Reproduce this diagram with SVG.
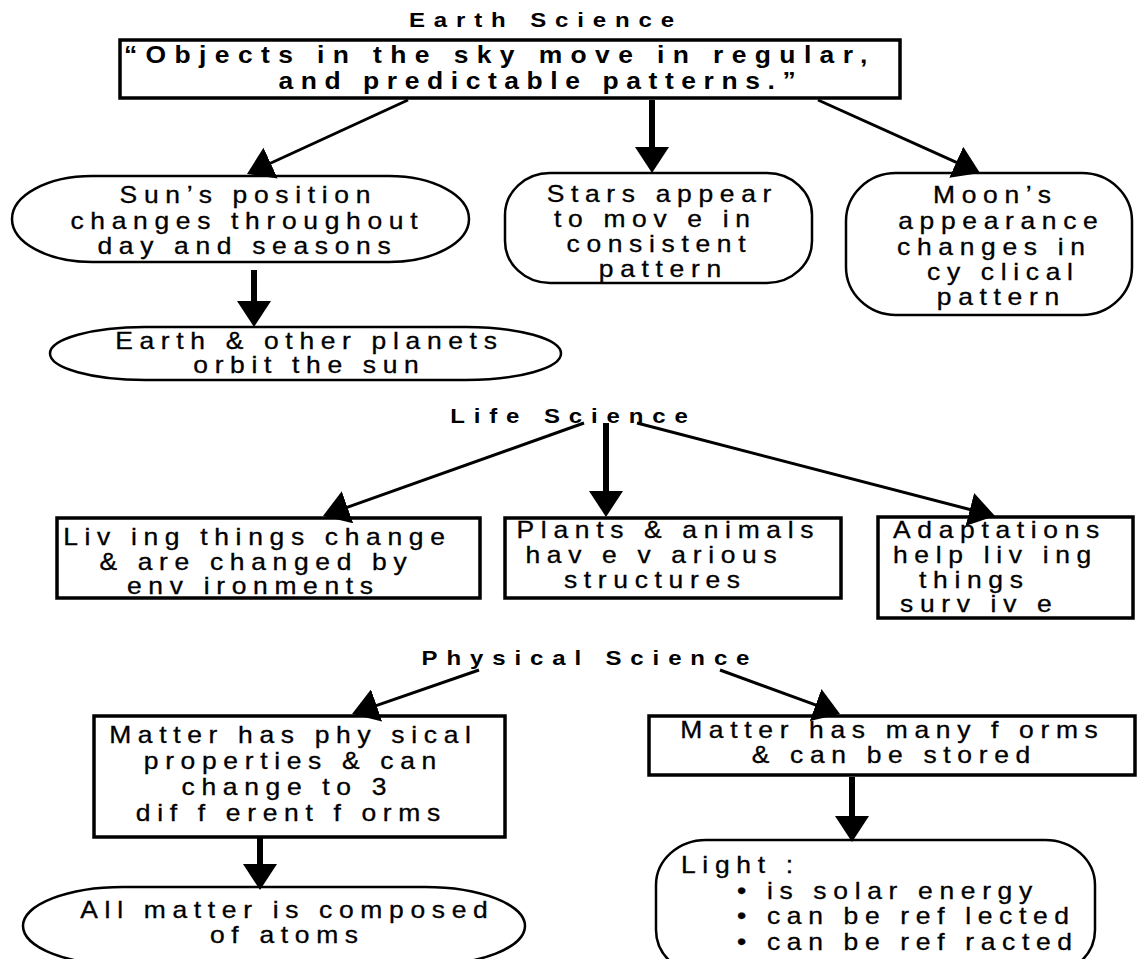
<svg xmlns="http://www.w3.org/2000/svg" width="1137" height="959" viewBox="0 0 1137 959">
  <style>
    text { font-family: "Liberation Sans", Arial, sans-serif; fill: #000; }
    .title { font-size: 20px; font-weight: bold; letter-spacing: 7.4px; text-anchor: middle; }
    .lead { font-size: 23px; font-weight: bold; letter-spacing: 6.6px; }
    .t, .ts { font-size: 23px; letter-spacing: 5.8px; stroke: #000; stroke-width: 0.3; }
    .t { text-anchor: middle; }
    .box { fill: #fff; stroke: #000; stroke-width: 3.5; }
    .pill { fill: #fff; stroke: #000; stroke-width: 2.5; }
    .thin { fill: none; stroke: #000; stroke-width: 3; marker-end: url(#ah); }
    .thick { fill: none; stroke: #000; stroke-width: 6; marker-end: url(#ah); }
  </style>
  <defs>
    <marker id="ah" markerUnits="userSpaceOnUse" markerWidth="26" markerHeight="34" viewBox="0 0 26 34" refX="2" refY="17" orient="auto">
      <path d="M0,0 L26,17 L0,34 z" fill="#000"/>
    </marker>
  </defs>
  <rect width="1137" height="959" fill="#fff"/>

  <!-- section headings (wide face: glyphs stretched horizontally) -->
  <text class="title" transform="translate(541.5 0) scale(1.2 1)" x="3.7" y="27">Earth Science</text>
  <text class="title" transform="translate(569 0) scale(1.2 1)" x="3.7" y="423">Life Science</text>
  <text class="title" transform="translate(585.5 0) scale(1.2 1)" x="3.7" y="665">Physical Science</text>

  <!-- Earth science -->
  <g id="main-idea">
    <rect class="box" x="120" y="40" width="780" height="58" stroke-width="3"/>
    <text class="lead" transform="translate(124 0) scale(1.15 1)" x="0" y="63" style="letter-spacing:7.3px">“Objects in the sky move in regular,</text>
    <text class="lead" transform="translate(537 0) scale(1.15 1)" x="3.3" y="89" text-anchor="middle">and predictable patterns.”</text>
  </g>
  <g id="sun">
    <rect class="pill" x="12" y="176" width="457" height="86" rx="80" ry="43"/>
    <text class="t" transform="translate(245 0) scale(1.15 1)" x="2.9" y="203">Sun’s position</text>
    <text class="t" transform="translate(244 0) scale(1.15 1)" x="2.9" y="229">changes throughout</text>
    <text class="t" transform="translate(244 0) scale(1.15 1)" x="2.9" y="254">day and seasons</text>
  </g>
  <g id="stars">
    <rect class="pill" x="505" y="173" width="307" height="110" rx="45" ry="42"/>
    <text class="t" transform="translate(659 0) scale(1.15 1)" x="2.9" y="202">Stars appear</text>
    <text class="t" transform="translate(652 0) scale(1.15 1)" x="2.9" y="227">to mov e in</text>
    <text class="t" transform="translate(656 0) scale(1.15 1)" x="2.9" y="252">consistent</text>
    <text class="t" transform="translate(660 0) scale(1.15 1)" x="2.9" y="277">pattern</text>
  </g>
  <g id="moon">
    <rect class="pill" x="846" y="173" width="286" height="142" rx="50" ry="48"/>
    <text class="t" transform="translate(992 0) scale(1.15 1)" x="2.9" y="203">Moon’s</text>
    <text class="t" transform="translate(998 0) scale(1.15 1)" x="2.9" y="229">appearance</text>
    <text class="t" transform="translate(991 0) scale(1.15 1)" x="2.9" y="255">changes  in</text>
    <text class="t" transform="translate(1000 0) scale(1.15 1)" x="2.9" y="280">cy clical</text>
    <text class="t" transform="translate(998 0) scale(1.15 1)" x="2.9" y="305">pattern</text>
  </g>
  <g id="planets">
    <rect class="pill" x="50" y="327" width="511" height="53" rx="95" ry="26.5"/>
    <text class="t" transform="translate(306 0) scale(1.15 1)" x="2.9" y="349">Earth &amp; other planets</text>
    <text class="t" transform="translate(306 0) scale(1.15 1)" x="2.9" y="373">orbit the sun</text>
  </g>

  <!-- Life science -->
  <g id="living">
    <rect class="box" x="57" y="518" width="423" height="80" stroke-width="4"/>
    <text class="t" transform="translate(254 0) scale(1.15 1)" x="2.9" y="545">Liv ing things change</text>
    <text class="t" transform="translate(253 0) scale(1.15 1)" x="2.9" y="570">&amp;  are changed by</text>
    <text class="t" transform="translate(250 0) scale(1.15 1)" x="2.9" y="594">env ironments</text>
  </g>
  <g id="structures">
    <rect class="box" x="505" y="518" width="336" height="80"/>
    <text class="t" transform="translate(665 0) scale(1.15 1)" x="2.9" y="538">Plants &amp; animals</text>
    <text class="t" transform="translate(651 0) scale(1.15 1)" x="2.9" y="563">hav e v arious</text>
    <text class="t" transform="translate(652 0) scale(1.15 1)" x="2.9" y="588">structures</text>
  </g>
  <g id="adaptations">
    <rect class="box" x="878" y="517" width="255" height="101" stroke-width="4"/>
    <text class="ts" transform="translate(893 0) scale(1.15 1)" x="0" y="538">Adaptations</text>
    <text class="ts" transform="translate(893 0) scale(1.15 1)" x="0" y="563">help liv ing</text>
    <text class="ts" transform="translate(919 0) scale(1.15 1)" x="0" y="588">things</text>
    <text class="ts" transform="translate(900 0) scale(1.15 1)" x="0" y="612">surv iv e</text>
  </g>

  <!-- Physical science -->
  <g id="properties">
    <rect class="box" x="94" y="716" width="411" height="121" stroke-width="4"/>
    <text class="t" transform="translate(290 0) scale(1.15 1)" x="2.9" y="743">Matter has phy sical</text>
    <text class="t" transform="translate(290 0) scale(1.15 1)" x="2.9" y="769">properties &amp; can</text>
    <text class="t" transform="translate(284 0) scale(1.15 1)" x="2.9" y="795">change to 3</text>
    <text class="t" transform="translate(288 0) scale(1.15 1)" x="2.9" y="821">dif f erent f orms</text>
  </g>
  <g id="atoms">
    <rect class="pill" x="23" y="887" width="502" height="78" rx="100" ry="39"/>
    <text class="t" transform="translate(284 0) scale(1.15 1)" x="2.9" y="918">All matter is composed</text>
    <text class="t" transform="translate(284 0) scale(1.15 1)" x="2.9" y="943">of atoms</text>
  </g>
  <g id="forms">
    <rect class="box" x="649" y="716" width="486" height="59" stroke-width="4"/>
    <text class="t" transform="translate(889 0) scale(1.15 1)" x="2.9" y="738">Matter has many  f orms</text>
    <text class="t" transform="translate(891 0) scale(1.15 1)" x="2.9" y="763">&amp; can be stored</text>
  </g>
  <g id="light">
    <rect class="pill" x="656" y="840" width="439" height="135" rx="50" ry="45"/>
    <text class="ts" transform="translate(681 0) scale(1.15 1)" x="0" y="873">Light :</text>
    <text class="ts" transform="translate(737 0) scale(1.15 1)" x="0" y="899">• is solar energy</text>
    <text class="ts" transform="translate(737 0) scale(1.15 1)" x="0" y="924">• can be ref lected</text>
    <text class="ts" transform="translate(737 0) scale(1.15 1)" x="0" y="950">• can be ref racted</text>
  </g>

  <!-- connectors -->
  <g id="connectors">
    <path class="thin" d="M408,100 L268.8,164"/>
    <path class="thick" d="M652,100 V149"/>
    <path class="thin" d="M818,100 L958.1,163.1"/>
    <path class="thick" d="M254,270 V303"/>
    <path class="thin" d="M584,423 L345.6,507.9"/>
    <path class="thick" d="M606,423 V493"/>
    <path class="thin" d="M637,423 L971.8,510"/>
    <path class="thin" d="M479,670 L374.7,706.1"/>
    <path class="thin" d="M720,670 L817.5,705.7"/>
    <path class="thick" d="M260,837 V866"/>
    <path class="thick" d="M852,777 V818"/>
  </g>
</svg>
